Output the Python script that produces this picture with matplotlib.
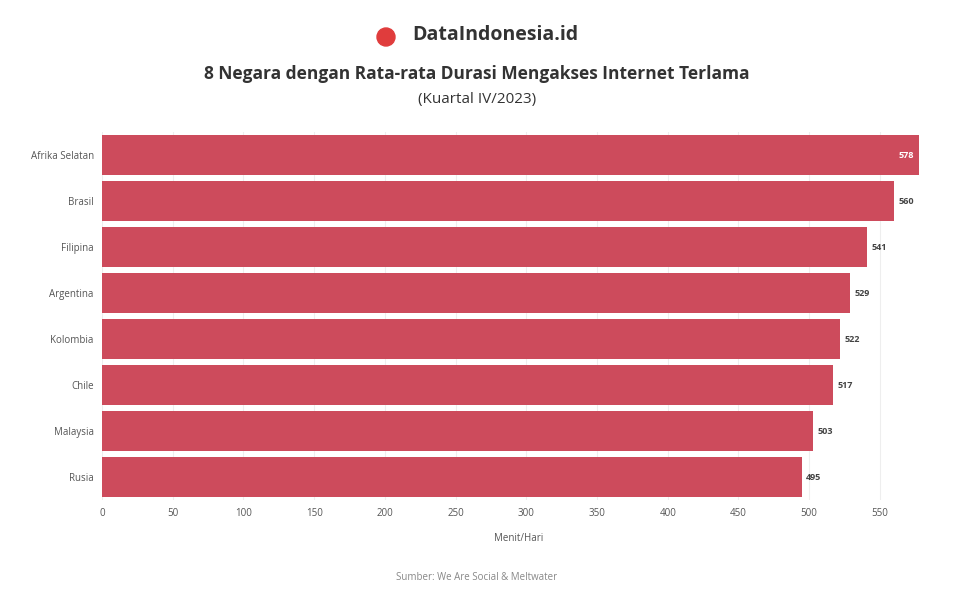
import matplotlib.pyplot as plt
from matplotlib.patches import Ellipse

countries = ["Afrika Selatan", "Brasil", "Filipina", "Argentina", "Kolombia", "Chile", "Malaysia", "Rusia"]
values = [578, 560, 541, 529, 522, 517, 503, 495]
ticks = list(range(0, 551, 50))

plt.rcParams['font.family'] = ['Open Sans', 'DejaVu Sans']
fig = plt.figure(figsize=(9.54, 5.96), dpi=100)
ax = fig.add_axes([102 / 954, 1 - 500 / 596, (935 - 102) / 954, (500 - 132) / 596])

y = list(range(len(countries)))
ax.barh(y, values, height=0.85, color="#cd4b5c")
ax.set_ylim(len(countries) - 0.5, -0.5)
ax.set_xlim(0, 589)
ax.set_yticks(y)
ax.set_yticklabels(countries, fontsize=7, color="#555555")
ax.set_xticks(ticks)
ax.set_xticklabels([str(t) for t in ticks], fontsize=7, color="#555555")
ax.tick_params(length=0, pad=6)
ax.grid(axis='x', color="#eeeeee", linewidth=0.8)
ax.set_axisbelow(True)
for s in ax.spines.values():
    s.set_visible(False)
ax.set_xlabel("Menit/Hari", fontsize=7, color="#555555", labelpad=10)

for i, v in enumerate(values):
    if i == 0:
        ax.text(v - 4, i, str(v), ha='right', va='center', fontsize=6.5, color="white", fontweight='bold')
    else:
        ax.text(v + 3, i, str(v), ha='left', va='center', fontsize=6.5, color="#444444", fontweight='bold')

# logo
fig.patches.append(Ellipse((386 / 954, 1 - 37 / 596), 18 / 954, 18 / 596, transform=fig.transFigure,
                           color="#e03c3c", figure=fig))
fig.text(412 / 954, 1 - 35 / 596, "DataIndonesia.id", ha='left', va='center', fontsize=14, fontweight='bold', color="#333333")
fig.text(0.5, 1 - 74 / 596, "8 Negara dengan Rata-rata Durasi Mengakses Internet Terlama",
         ha='center', va='center', fontsize=12.5, fontweight='bold', color="#333333")
fig.text(0.5, 1 - 99 / 596, "(Kuartal IV/2023)", ha='center', va='center', fontsize=11, color="#333333")
fig.text(0.5, 1 - 577 / 596, "Sumber: We Are Social & Meltwater", ha='center', va='center', fontsize=7, color="#888888")

fig.savefig("out.png", dpi=100)
